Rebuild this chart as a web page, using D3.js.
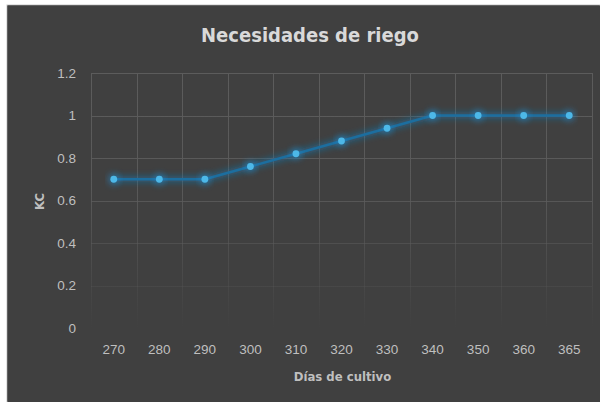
<!DOCTYPE html>
<html>
<head>
<meta charset="utf-8">
<script src="https://cdn.jsdelivr.net/npm/d3@7/dist/d3.min.js"></script>
<style>
  html, body { margin: 0; padding: 0; background: #ffffff; }
  svg { display: block; }
</style>
</head>
<body>
<div id="chart"></div>
<script>
// Crop coefficient (KC) by day of the growing cycle
const days = ["270", "280", "290", "300", "310", "320", "330", "340", "350", "360", "365"];
const kc = [0.7, 0.7, 0.7, 0.76, 0.82, 0.88, 0.94, 1, 1, 1, 1];
const yTicks = [0, 0.2, 0.4, 0.6, 0.8, 1, 1.2];

const W = 600, H = 402;
const frame = { x: 7, y: 5 };
const plot = { left: 91, right: 592, top: 73, bottom: 328 };

const svg = d3.select("#chart").append("svg")
  .attr("width", W).attr("height", H);

const defs = svg.append("defs");
const fade = defs.append("linearGradient")
  .attr("id", "gridFade")
  .attr("gradientUnits", "userSpaceOnUse")
  .attr("x1", 0).attr("y1", plot.top).attr("x2", 0).attr("y2", plot.bottom);
fade.append("stop").attr("offset", "0%").attr("stop-color", "#5c5c5c").attr("stop-opacity", 1);
fade.append("stop").attr("offset", "45%").attr("stop-color", "#5c5c5c").attr("stop-opacity", 0.9);
fade.append("stop").attr("offset", "100%").attr("stop-color", "#5c5c5c").attr("stop-opacity", 0);

const glow = defs.append("filter").attr("id", "glow")
  .attr("x", "-20%").attr("y", "-50%").attr("width", "140%").attr("height", "200%");
glow.append("feGaussianBlur").attr("stdDeviation", 3);

// frame
svg.append("rect").attr("x", 0).attr("y", 0).attr("width", W).attr("height", H).attr("fill", "#ffffff");
svg.append("rect").attr("x", frame.x).attr("y", frame.y).attr("width", W - frame.x).attr("height", H - frame.y)
  .attr("fill", "#404040").attr("stroke", "#c8c8c8").attr("stroke-width", 1);
svg.append("rect").attr("x", frame.x + 0.5).attr("y", frame.y + 0.5).attr("width", W - frame.x).attr("height", H - frame.y)
  .attr("fill", "#404040");

const x = d3.scaleBand().domain(days).range([plot.left, plot.right]);
const y = d3.scaleLinear().domain([0, 1.2]).range([plot.bottom, plot.top]);

// gridlines
const grid = svg.append("g").attr("stroke", "url(#gridFade)").attr("stroke-width", 1);
const bounds = days.map(d => x(d)).concat([plot.right]);
grid.selectAll("line.v").data(bounds).join("line")
  .attr("x1", d => Math.round(d) + 0.5).attr("x2", d => Math.round(d) + 0.5)
  .attr("y1", plot.top).attr("y2", plot.bottom);
grid.selectAll("line.h").data(yTicks).join("line")
  .attr("x1", plot.left).attr("x2", plot.right)
  .attr("y1", d => Math.round(y(d)) + 0.5).attr("y2", d => Math.round(y(d)) + 0.5);

// y axis labels
const yAxis = d3.axisLeft(y).tickValues(yTicks).tickSize(0).tickPadding(15)
  .tickFormat(d => d3.format("")(d));
const gy = svg.append("g").attr("transform", `translate(${plot.left},0)`).call(yAxis);
gy.select(".domain").remove();
gy.selectAll("text").attr("fill", "#bfbfbf").style("font-family", "'Liberation Sans', Arial, sans-serif").style("font-size", "13.5px");

// x axis labels
const xAxis = d3.axisBottom(x).tickSize(0).tickPadding(16);
const gx = svg.append("g").attr("transform", `translate(0,${plot.bottom})`).call(xAxis);
gx.select(".domain").remove();
gx.selectAll("text").attr("fill", "#bfbfbf").style("font-family", "'Liberation Sans', Arial, sans-serif").style("font-size", "13.5px");

// series
const cx = d => x(d) + x.bandwidth() / 2;
const line = d3.line().x((d, i) => cx(days[i])).y(d => y(d));

svg.append("path").datum(kc).attr("d", line)
  .attr("fill", "none").attr("stroke", "#1a7ab4").attr("stroke-width", 6)
  .attr("stroke-opacity", 0.55).attr("filter", "url(#glow)");
svg.append("path").datum(kc).attr("d", line)
  .attr("fill", "none").attr("stroke", "#1c6e9f").attr("stroke-width", 2.6)
  .attr("stroke-linejoin", "round");

svg.append("g").selectAll("circle.g").data(kc).join("circle")
  .attr("cx", (d, i) => cx(days[i])).attr("cy", d => y(d)).attr("r", 6)
  .attr("fill", "#2a8ccc").attr("opacity", 0.5).attr("filter", "url(#glow)");
svg.append("g").selectAll("circle.m").data(kc).join("circle")
  .attr("cx", (d, i) => cx(days[i])).attr("cy", d => y(d)).attr("r", 3.4)
  .attr("fill", "#4db8e8");

// titles
svg.append("text").attr("x", 310).attr("y", 42).attr("text-anchor", "middle")
  .attr("fill", "#d9d9d9")
  .style("font-family", "'DejaVu Sans Condensed', 'DejaVu Sans', sans-serif")
  .style("font-weight", "bold").style("font-size", "20px")
  .text("Necesidades de riego");

svg.append("text").attr("x", (plot.left + plot.right) / 2 + 1).attr("y", 381).attr("text-anchor", "middle")
  .attr("fill", "#bfbfbf")
  .style("font-family", "'DejaVu Sans Condensed', 'DejaVu Sans', sans-serif")
  .style("font-weight", "bold").style("font-size", "13px")
  .text("Días de cultivo");

svg.append("text").attr("transform", `translate(44,${(plot.top + plot.bottom) / 2 + 1}) rotate(-90)`)
  .attr("text-anchor", "middle").attr("fill", "#bfbfbf")
  .style("font-family", "'DejaVu Sans Condensed', 'DejaVu Sans', sans-serif")
  .style("font-weight", "bold").style("font-size", "13px")
  .text("KC");
</script>
</body>
</html>
